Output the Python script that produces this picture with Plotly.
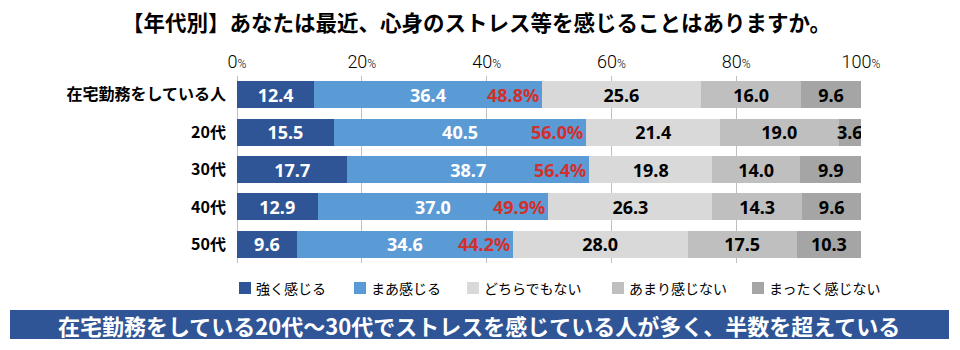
import plotly.graph_objects as go

categories = ["在宅勤務をしている人", "20代", "30代", "40代", "50代"]
series_names = ["強く感じる", "まあ感じる", "どちらでもない", "あまり感じない", "まったく感じない"]
strong = [12.4, 15.5, 17.7, 12.9, 9.6]
somewhat = [36.4, 40.5, 38.7, 37.0, 34.6]
neutral = [25.6, 21.4, 19.8, 26.3, 28.0]
not_much = [16.0, 19.0, 14.0, 14.3, 17.5]
not_at_all = [9.6, 3.6, 9.9, 9.6, 10.3]
tick_vals = [0, 20, 40, 60, 80, 100]
tick_labels = ["0%", "20%", "40%", "60%", "80%", "100%"]

title_text = "【年代別】あなたは最近、心身のストレス等を感じることはありますか。"
banner_text = "在宅勤務をしている20代～30代でストレスを感じている人が多く、半数を超えている"

colors = ["#2F5597", "#5B9BD5", "#D9D9D9", "#BFBFBF", "#A5A5A5"]
text_colors = ["white", "white", "black", "black", "black"]
series = [strong, somewhat, neutral, not_much, not_at_all]

NUM_FONT = "Noto Sans, Noto Sans CJK JP, sans-serif"
JP_FONT = "Noto Sans CJK JP, Noto Sans, sans-serif"

fig = go.Figure()
for name, vals, c, tc in zip(series_names, series, colors, text_colors):
    fig.add_trace(go.Bar(
        name=name, y=categories, x=vals, orientation="h",
        marker=dict(color=c, line=dict(width=0)),
        text=[f"{v:.1f}" for v in vals],
        textposition="inside", insidetextanchor="middle",
        constraintext="none", textangle=0,
        textfont=dict(family=NUM_FONT, size=18, color=tc, weight="bold"),
        hoverinfo="skip", showlegend=False,
    ))

# sums of "feel stress" (strong + somewhat)
sums = [round(a + b, 1) for a, b in zip(strong, somewhat)]
for cat, s in zip(categories, sums):
    fig.add_annotation(x=s, y=cat, xref="x", yref="y", text=f"{s:.1f}%",
                       showarrow=False, xanchor="right", xshift=-1,
                       font=dict(family=NUM_FONT, size=18, color="#D2302C", weight="bold"))

L, R, T, B = 237, 99, 76, 87
W, H = 960, 350
pw, ph = W - L - R, H - T - B

def px_x(px):
    return (px - L) / pw

def px_y(py):
    return (H - B - py) / ph

# legend (drawn manually to match spacing)
legend_x = [239, 354, 467, 612, 752]
for lx, name, c in zip(legend_x, series_names, colors):
    fig.add_shape(type="rect", xref="paper", yref="paper",
                  x0=px_x(lx), x1=px_x(lx + 12), y0=px_y(294), y1=px_y(282),
                  fillcolor=c, line=dict(width=0))
    fig.add_annotation(xref="paper", yref="paper", x=px_x(lx + 15), y=px_y(288),
                       text=name, showarrow=False, xanchor="left", yanchor="middle",
                       font=dict(family=JP_FONT, size=14, color="black"))

# banner
fig.add_shape(type="rect", xref="paper", yref="paper",
              x0=px_x(10), x1=px_x(949), y0=px_y(339), y1=px_y(310),
              fillcolor="#2F5597", line=dict(width=0), layer="above")
fig.add_annotation(xref="paper", yref="paper", x=px_x(479), y=px_y(324.5),
                   text=banner_text, showarrow=False, xanchor="center", yanchor="middle",
                   font=dict(family=JP_FONT, size=22, color="white", weight="bold"))

# title
fig.add_annotation(xref="paper", yref="paper", x=px_x(476), y=px_y(22),
                   text=title_text, showarrow=False, xanchor="center", yanchor="middle",
                   font=dict(family=JP_FONT, size=21.5, color="black", weight="bold"))

fig.update_layout(
    width=W, height=H, barmode="stack", bargap=0.275,
    margin=dict(l=L, r=R, t=T, b=B, pad=0),
    paper_bgcolor="white", plot_bgcolor="white",
    showlegend=False,
    xaxis=dict(range=[0, 100], side="top", tickvals=tick_vals,
               ticktext=[t.replace("%", "<span style='font-size:12px'>%</span>") for t in tick_labels],
               showgrid=True, gridcolor="#BFBFBF", gridwidth=1,
               zeroline=True, zerolinecolor="#BFBFBF", zerolinewidth=1,
               showline=False, ticks="", ticklabelstandoff=3,
               tickfont=dict(family="Roboto, sans-serif", size=18, color="#000000", weight=300)),
    yaxis=dict(categoryorder="array", categoryarray=categories, autorange="reversed",
               showgrid=False, ticks="", ticklabelstandoff=10,
               tickfont=dict(family=JP_FONT, size=16, color="black", weight="bold")),
    font=dict(family=JP_FONT),
)

fig.write_html("out.html")
